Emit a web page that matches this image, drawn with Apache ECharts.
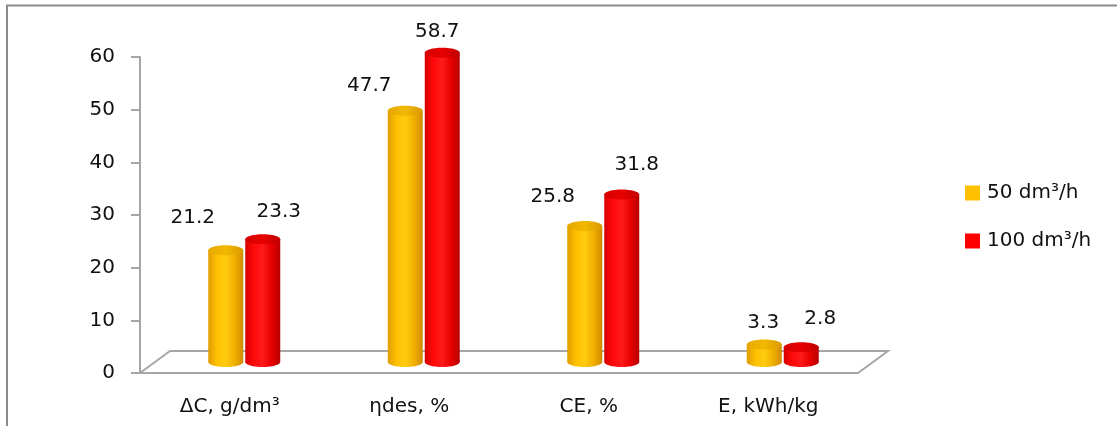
<!DOCTYPE html>
<html>
<head>
<meta charset="utf-8">
<script src="https://cdn.jsdelivr.net/npm/echarts@6/dist/echarts.min.js"></script>
<style>
html,body{margin:0;padding:0;background:#fff;overflow:hidden;}
#chart{width:1117px;height:426px;}
</style>
</head>
<body>
<div id="chart"></div>
<script>
// ---- data ----
const categories = ['ΔC, g/dm³', 'ηdes, %', 'CE, %', 'E, kWh/kg'];
const seriesNames = ['50 dm³/h', '100 dm³/h'];
const flow50 = [21.2, 47.7, 25.8, 3.3];
const flow100 = [23.3, 58.7, 31.8, 2.8];
const yTicks = [0, 10, 20, 30, 40, 50, 60];

// ---- style / layout constants ----
const FONT = "'DejaVu Sans', 'Open Sans', sans-serif";
const FS = 20;
const DEPTH_DX = 30, DEPTH_DY = -22;
const BAR_W = 35, RY = 5;
const SERIES_OFFSET = [-19, 18];
const labelNudge = [
  [[-33, -33], [-36, -25], [-32, -29], [-1, -22]],
  [[16, -27], [-5, -21], [15, -30], [19, -28]]
];
const palettes = [
  {legend: '#FFC000', body: ['#E09C00', '#FFC000', '#FFCC10', '#F0B000', '#D08A00'], top: ['#E6A800', '#F2B800', '#D99A00']},
  {legend: '#FF0000', body: ['#D80000', '#FF0A0A', '#FF1A1A', '#E80000', '#B80000'], top: ['#D40000', '#E80000', '#C00000']}
];

function grad(stops) {
  const n = stops.length;
  return new echarts.graphic.LinearGradient(0, 0, 1, 0,
    stops.map((c, k) => ({offset: k / (n - 1), color: c})));
}

function makeCylinder(sIdx) {
  return function (params, api) {
    const i = api.value(0), v = api.value(1);
    const base = api.coord([i, 0]);
    const top = api.coord([i, v]);
    const cx = base[0] + DEPTH_DX / 2 + SERIES_OFFSET[sIdx];
    const by = base[1] + DEPTH_DY / 2;
    const ty = top[1] + DEPTH_DY / 2;
    const rx = BAR_W / 2;
    const p = palettes[sIdx];
    const nudge = labelNudge[sIdx][i];
    return {
      type: 'group',
      children: [
        {type: 'ellipse', shape: {cx: cx, cy: by, rx: rx, ry: RY}, style: {fill: grad(p.body)}},
        {type: 'rect', shape: {x: cx - rx, y: ty, width: BAR_W, height: Math.max(0, by - ty)}, style: {fill: grad(p.body)}},
        {type: 'ellipse', shape: {cx: cx, cy: ty, rx: rx, ry: RY}, style: {fill: grad(p.top)}},
        {type: 'text', x: cx + nudge[0], y: ty + nudge[1],
          style: {text: String(v), fill: '#111', font: FS + 'px ' + FONT, align: 'center', verticalAlign: 'middle'}}
      ]
    };
  };
}

function floorItem(params, api) {
  const bw = api.size([1, 0])[0];
  const c0 = api.coord([0, 0]);
  const cN = api.coord([categories.length - 1, 0]);
  const xl = c0[0] - bw / 2, xr = cN[0] + bw / 2, y = c0[1];
  return {
    type: 'polyline',
    shape: {points: [[xl, y], [xl + DEPTH_DX, y + DEPTH_DY], [xr + DEPTH_DX, y + DEPTH_DY], [xr, y]]},
    style: {stroke: '#A6A6A6', lineWidth: 2, fill: null},
    z2: 0
  };
}

const chart = echarts.init(document.getElementById('chart'), null, {renderer: 'canvas'});
chart.setOption({
  animation: false,
  backgroundColor: '#fff',
  graphic: [{
    type: 'polyline', shape: {points: [[7, 440], [7, 5.5], [1130, 5.5]]},
    style: {fill: null, stroke: '#8C8C8C', lineWidth: 2}, silent: true, z: -10
  }],
  legend: {
    orient: 'vertical', left: 960, top: 178, itemWidth: 15, itemHeight: 15, itemGap: 28,
    icon: 'rect',
    data: seriesNames,
    textStyle: {fontSize: FS, fontFamily: FONT, color: '#111', lineHeight: 20, padding: [0, 0, 0, 2]}
  },
  grid: {left: 140, top: 57, width: 718, height: 316, containLabel: false},
  xAxis: {
    type: 'category', data: categories,
    axisLine: {show: true, lineStyle: {color: '#A6A6A6', width: 2}},
    axisTick: {show: false},
    axisLabel: {margin: 24, fontSize: FS, fontFamily: FONT, color: '#111'},
    splitLine: {show: false}
  },
  yAxis: {
    type: 'value', min: yTicks[0], max: yTicks[yTicks.length - 1], interval: 10,
    axisLine: {show: true, lineStyle: {color: '#A6A6A6', width: 2}},
    axisTick: {show: true, length: 9, lineStyle: {color: '#A6A6A6', width: 2}},
    axisLabel: {margin: 25, fontSize: FS, fontFamily: FONT, color: '#111'},
    splitLine: {show: false}
  },
  series: [
    {type: 'custom', name: '__floor', renderItem: floorItem, data: [[0, 0]], silent: true, z: 1, legendHoverLink: false},
    {type: 'custom', name: seriesNames[0], renderItem: makeCylinder(0),
      itemStyle: {color: palettes[0].legend}, data: flow50.map((v, i) => [i, v]), z: 2},
    {type: 'custom', name: seriesNames[1], renderItem: makeCylinder(1),
      itemStyle: {color: palettes[1].legend}, data: flow100.map((v, i) => [i, v]), z: 3}
  ]
});
</script>
</body>
</html>
